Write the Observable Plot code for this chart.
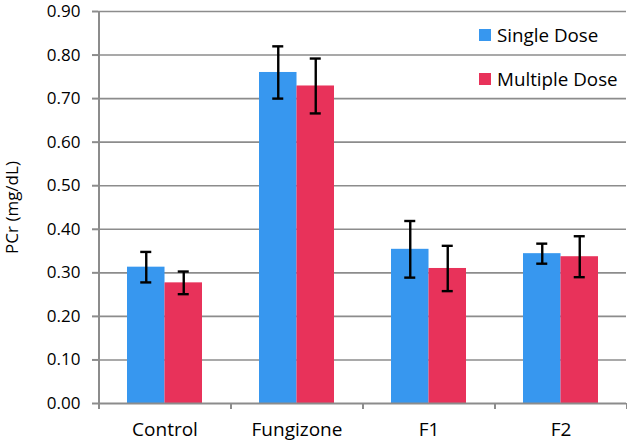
<!DOCTYPE html>
<html>
<head>
<meta charset="utf-8">
<script src="https://cdn.jsdelivr.net/npm/d3@7"></script>
<script src="https://cdn.jsdelivr.net/npm/@observablehq/plot@0.6"></script>
<style>
  html, body { margin: 0; padding: 0; background: #fff; }
  #wrap { position: relative; width: 627px; height: 442px; font-family: "Open Sans", sans-serif; }
  #legend { position: absolute; left: 479px; top: 22px; font-size: 18.8px; color: #000; }
  #legend .item { display: flex; align-items: center; height: 26px; margin-bottom: 18px; white-space: nowrap; }
  #legend .sw { width: 12px; height: 12px; margin-right: 6px; flex: none; }
</style>
</head>
<body>
<div id="wrap">
  <div id="chart"></div>
  <div id="legend"></div>
</div>
<script>
const categories = ["Control", "Fungizone", "F1", "F2"];
const seriesNames = ["Single Dose", "Multiple Dose"];
const singleDose = [0.313, 0.760, 0.354, 0.344];
const singleErr = [0.035, 0.060, 0.065, 0.023];
const multipleDose = [0.277, 0.729, 0.310, 0.337];
const multipleErr = [0.026, 0.063, 0.052, 0.047];
const yTicks = [0, 0.1, 0.2, 0.3, 0.4, 0.5, 0.6, 0.7, 0.8, 0.9];
const colors = ["#3797ef", "#e8325a"];

const W = 627, H = 442, mL = 98, mR = 1, mT = 11, mB = 39;
const step = (W - mL - mR) / categories.length;
const padInner = 0.432;
const bw = step * (1 - padInner);
const capHalf = 5.5;
const gray = "#8c8c8c";

const single = categories.map((c, i) => ({category: c, value: singleDose[i], lo: singleDose[i] - singleErr[i], hi: singleDose[i] + singleErr[i]}));
const multiple = categories.map((c, i) => ({category: c, value: multipleDose[i], lo: multipleDose[i] - multipleErr[i], hi: multipleDose[i] + multipleErr[i]}));

const yBelow = -6 / ((H - mT - mB) / 0.9); // 6px below the baseline

function errMarks(data, dx) {
  return [
    Plot.ruleX(data, {x: "category", y1: "lo", y2: "hi", dx, stroke: "#000", strokeWidth: 2.4}),
    Plot.tickY(data, {x: "category", y: "lo", dx, insetLeft: bw / 2 - capHalf, insetRight: bw / 2 - capHalf, stroke: "#000", strokeWidth: 2.4}),
    Plot.tickY(data, {x: "category", y: "hi", dx, insetLeft: bw / 2 - capHalf, insetRight: bw / 2 - capHalf, stroke: "#000", strokeWidth: 2.4})
  ];
}

const chart = Plot.plot({
  width: W, height: H,
  marginLeft: mL, marginRight: mR, marginTop: mT, marginBottom: mB,
  style: {fontFamily: "Open Sans, sans-serif", color: "#000", background: "#fff", overflow: "visible"},
  x: {domain: categories, paddingInner: padInner, paddingOuter: padInner / 2, axis: null},
  y: {domain: [0, 0.9], axis: null},
  marks: [
    Plot.ruleY(yTicks.slice(1), {stroke: gray, strokeWidth: 1.6}),
    Plot.barY(single, {x: "category", y: "value", fill: colors[0], insetRight: bw / 2}),
    Plot.barY(multiple, {x: "category", y: "value", fill: colors[1], insetLeft: bw / 2}),
    ...errMarks(single, -bw / 4),
    ...errMarks(multiple, bw / 4),
    Plot.ruleY([0], {stroke: gray, strokeWidth: 2}),
    Plot.ruleX(categories, {x: d => d, dx: -step / 2, y1: 0, y2: yBelow, stroke: gray, strokeWidth: 2}),
    Plot.ruleX([categories[categories.length - 1]], {x: d => d, dx: step / 2, y1: 0, y2: yBelow, stroke: gray, strokeWidth: 2}),
    Plot.ruleX([categories[0]], {x: d => d, dx: -step / 2, y1: 0, y2: 0.9, stroke: gray, strokeWidth: 2}),
    Plot.axisY({ticks: yTicks, tickFormat: d3.format(".2f"), tickSize: 6, tickPadding: 12, stroke: gray, strokeWidth: 2, fontSize: 17, label: null}),
    Plot.axisX({tickSize: 0, tickPadding: 19, fontSize: 19, label: null}),
    Plot.text(["PCr (mg/dL)"], {frameAnchor: "left", text: d => d, rotate: -90, dx: -86, fontSize: 17, textAnchor: "middle", lineAnchor: "middle"})
  ]
});
document.getElementById("chart").appendChild(chart);

const legend = document.getElementById("legend");
seriesNames.forEach((name, i) => {
  const item = document.createElement("div");
  item.className = "item";
  const sw = document.createElement("span");
  sw.className = "sw";
  sw.style.background = colors[i];
  const label = document.createElement("span");
  label.textContent = name;
  item.appendChild(sw);
  item.appendChild(label);
  legend.appendChild(item);
});
</script>
</body>
</html>
